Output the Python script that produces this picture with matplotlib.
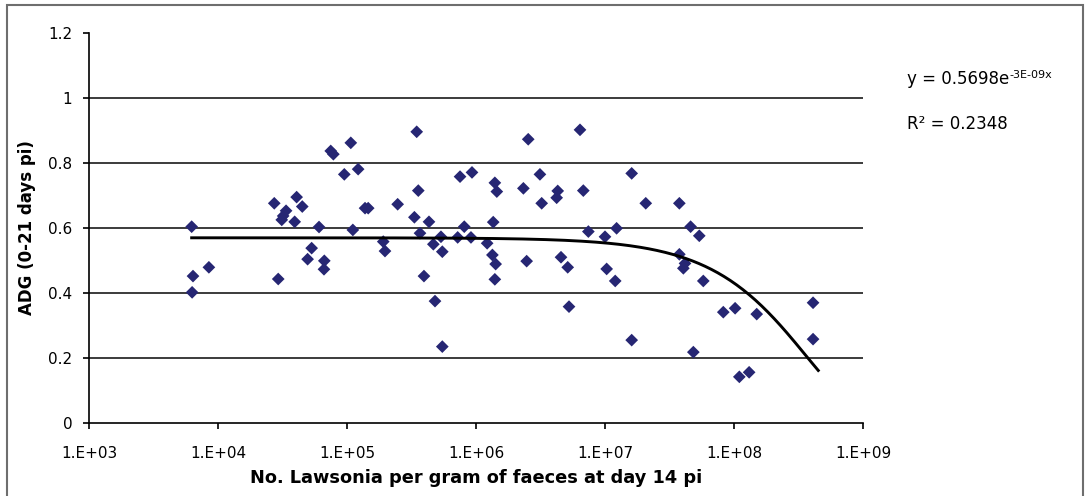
import numpy as np
import matplotlib
matplotlib.use("Agg")
import matplotlib.pyplot as plt
from matplotlib.patches import Rectangle
from matplotlib.ticker import FixedLocator, FuncFormatter

# bacteria count per gram faeces (day 14 pi) and ADG 0-21 days pi
lawsonia = [
    6.25e3, 6.4e3, 6.3e3, 8.5e3, 2.73e4, 2.93e4, 3.37e4, 3.2e4, 3.12e4, 4.07e4,
    4.5e4, 3.93e4, 6.07e4, 5.32e4, 4.95e4, 6.67e4, 6.63e4, 7.48e4, 7.84e4, 1.07e5,
    9.53e4, 1.22e5, 1.38e5, 1.46e5, 1.11e5, 1.91e5, 1.97e5, 2.47e5, 3.47e5, 3.57e5,
    3.33e5, 4.32e5, 3.68e5, 4.67e5, 5.35e5, 5.48e5, 3.95e5, 4.81e5, 5.48e5, 7.52e5,
    9.31e5, 8.11e5, 7.21e5, 9.14e5, 1.22e6, 1.36e6, 1.40e6, 1.45e6, 1.34e6, 1.42e6,
    1.40e6, 2.54e6, 6.4e6, 3.13e6, 2.33e6, 3.23e6, 4.3e6, 4.22e6, 6.79e6, 1.61e7,
    2.07e7, 7.43e6, 1.0e7, 1.23e7, 2.47e6, 4.56e6, 5.14e6, 1.03e7, 1.2e7, 5.26e6,
    1.61e7, 3.77e7, 4.61e7, 5.38e7, 3.77e7, 4.17e7, 4.05e7, 5.78e7, 4.84e7, 8.26e7,
    1.02e8, 1.5e8, 1.1e8, 1.31e8, 4.1e8, 4.1e8,
]
adg = [
    0.604, 0.452, 0.402, 0.479, 0.676, 0.443, 0.653, 0.637, 0.625, 0.695,
    0.666, 0.619, 0.603, 0.538, 0.504, 0.499, 0.473, 0.837, 0.827, 0.862,
    0.765, 0.781, 0.661, 0.661, 0.594, 0.558, 0.529, 0.673, 0.896, 0.715,
    0.633, 0.619, 0.584, 0.550, 0.573, 0.527, 0.452, 0.375, 0.235, 0.758,
    0.771, 0.604, 0.571, 0.571, 0.553, 0.618, 0.739, 0.712, 0.517, 0.489,
    0.442, 0.873, 0.902, 0.765, 0.722, 0.676, 0.714, 0.693, 0.715, 0.768,
    0.676, 0.589, 0.573, 0.599, 0.498, 0.510, 0.479, 0.474, 0.437, 0.358,
    0.255, 0.676, 0.604, 0.576, 0.519, 0.491, 0.476, 0.437, 0.218, 0.341,
    0.353, 0.335, 0.142, 0.156, 0.370, 0.258,
]

# exponential trendline y = a * exp(-b x)
trend_a = 0.5698
trend_b = 2.8e-9
trend_x_end = 4.5e8

equation_main = "y = 0.5698e"
equation_sup = "-3E-09x"
r2_text = "R\u00b2 = 0.2348"

x_ticks = [1e3, 1e4, 1e5, 1e6, 1e7, 1e8, 1e9]
y_ticks = [0, 0.2, 0.4, 0.6, 0.8, 1.0, 1.2]
y_tick_labels = ["0", "0.2", "0.4", "0.6", "0.8", "1", "1.2"]

plt.rcParams["font.family"] = ["DejaVu Sans"]

fig = plt.figure(figsize=(10.88, 4.96), dpi=100)
ax = fig.add_axes([0.0818, 0.1472, 0.7114, 0.7863])

# outer chart border (bottom runs off the picture)
fig.patches.append(Rectangle((7 / 1088, -0.05), 1076 / 1088, 1 - 5 / 496 + 0.05,
                             transform=fig.transFigure, fill=False,
                             edgecolor="#6e6e6e", linewidth=1.5))

ax.set_xscale("log")
ax.set_xlim(1e3, 1e9)
ax.set_ylim(0, 1.2)

for gy in y_ticks[1:-1]:
    ax.axhline(gy, color="#1a1a1a", linewidth=1.2, zorder=1)

ax.scatter(lawsonia, adg, marker="D", s=42, color="#262673",
           edgecolors="none", zorder=3, clip_on=False)

tx = np.logspace(np.log10(min(lawsonia)), np.log10(trend_x_end), 300)
ax.plot(tx, trend_a * np.exp(-trend_b * tx), color="black",
        linewidth=2.1, zorder=4, clip_on=False)

for side in ["top", "right"]:
    ax.spines[side].set_visible(False)
ax.spines["left"].set_linewidth(1.2)
ax.spines["bottom"].set_linewidth(1.2)

ax.xaxis.set_major_locator(FixedLocator(x_ticks))
ax.xaxis.set_minor_locator(FixedLocator([]))
ax.xaxis.set_major_formatter(FuncFormatter(lambda v, p: "1.E+%02d" % round(np.log10(v))))
ax.set_yticks(y_ticks)
ax.set_yticklabels(y_tick_labels)

ax.tick_params(axis="x", direction="out", length=4.5, width=1.2, labelsize=11, pad=12)
ax.tick_params(axis="y", direction="out", length=4, width=1.2, labelsize=11, pad=8)

ax.set_xlabel("No. Lawsonia per gram of faeces at day 14 pi",
              fontsize=12.8, fontweight="bold", labelpad=6)
ax.set_ylabel("ADG (0-21 days pi)", fontsize=12, fontweight="bold", labelpad=9)

eq = fig.text(907 / 1088, 1 - 79 / 496, equation_main, fontsize=12, va="center")
ax.annotate(equation_sup, xy=(1.0, 0.72), xycoords=eq, fontsize=8,
            va="center", ha="left")
fig.text(907 / 1088, 1 - 124 / 496, r2_text, fontsize=12, va="center")

fig.savefig("out.png", dpi=100)
